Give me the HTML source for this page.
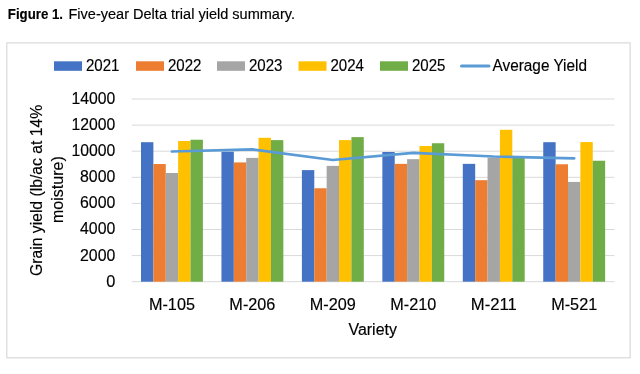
<!DOCTYPE html>
<html><head><meta charset="utf-8"><style>
html,body{margin:0;padding:0;background:#fff;}
body{width:640px;height:374px;overflow:hidden;}
svg{display:block;will-change:transform;}
text{font-family:"Liberation Sans", sans-serif;fill:#000;stroke:#000;stroke-width:0.15px;}
</style></head><body>
<svg width="640" height="374" viewBox="0 0 640 374">
<rect x="0" y="0" width="640" height="374" fill="#fff"/>
<text x="7.8" y="18.5" font-size="13.8" font-weight="bold" textLength="55.2" lengthAdjust="spacingAndGlyphs">Figure 1.</text>
<text x="68.5" y="18.5" font-size="13.8" textLength="226.5" lengthAdjust="spacingAndGlyphs">Five-year Delta trial yield summary.</text>
<rect x="6.8" y="42.9" width="623.3" height="314.9" fill="none" stroke="#D9D9D9" stroke-width="1.2"/>
<g font-size="15.6">
<line x1="131.72" y1="281.70" x2="614.42" y2="281.70" stroke="#D9D9D9" stroke-width="1"/>
<line x1="131.72" y1="255.60" x2="614.42" y2="255.60" stroke="#D9D9D9" stroke-width="1"/>
<line x1="131.72" y1="229.50" x2="614.42" y2="229.50" stroke="#D9D9D9" stroke-width="1"/>
<line x1="131.72" y1="203.40" x2="614.42" y2="203.40" stroke="#D9D9D9" stroke-width="1"/>
<line x1="131.72" y1="177.30" x2="614.42" y2="177.30" stroke="#D9D9D9" stroke-width="1"/>
<line x1="131.72" y1="151.20" x2="614.42" y2="151.20" stroke="#D9D9D9" stroke-width="1"/>
<line x1="131.72" y1="125.10" x2="614.42" y2="125.10" stroke="#D9D9D9" stroke-width="1"/>
<line x1="131.72" y1="99.00" x2="614.42" y2="99.00" stroke="#D9D9D9" stroke-width="1"/>
<rect x="141.00" y="142.20" width="12.38" height="139.50" fill="#4472C4"/>
<rect x="153.38" y="164.05" width="12.38" height="117.65" fill="#ED7D31"/>
<rect x="165.76" y="172.99" width="12.38" height="108.71" fill="#A5A5A5"/>
<rect x="178.13" y="140.99" width="12.38" height="140.71" fill="#FFC000"/>
<rect x="190.51" y="139.72" width="12.38" height="141.98" fill="#70AD47"/>
<rect x="221.45" y="151.72" width="12.38" height="129.98" fill="#4472C4"/>
<rect x="233.83" y="162.42" width="12.38" height="119.28" fill="#ED7D31"/>
<rect x="246.21" y="157.89" width="12.38" height="123.81" fill="#A5A5A5"/>
<rect x="258.58" y="137.80" width="12.38" height="143.90" fill="#FFC000"/>
<rect x="270.96" y="140.11" width="12.38" height="141.59" fill="#70AD47"/>
<rect x="301.90" y="170.12" width="12.38" height="111.58" fill="#4472C4"/>
<rect x="314.28" y="188.26" width="12.38" height="93.44" fill="#ED7D31"/>
<rect x="326.66" y="165.88" width="12.38" height="115.82" fill="#A5A5A5"/>
<rect x="339.03" y="140.11" width="12.38" height="141.59" fill="#FFC000"/>
<rect x="351.41" y="137.11" width="12.38" height="144.59" fill="#70AD47"/>
<rect x="382.35" y="151.98" width="12.38" height="129.72" fill="#4472C4"/>
<rect x="394.73" y="163.86" width="12.38" height="117.84" fill="#ED7D31"/>
<rect x="407.11" y="159.16" width="12.38" height="122.54" fill="#A5A5A5"/>
<rect x="419.48" y="145.98" width="12.38" height="135.72" fill="#FFC000"/>
<rect x="431.86" y="143.24" width="12.38" height="138.46" fill="#70AD47"/>
<rect x="462.80" y="163.86" width="12.38" height="117.84" fill="#4472C4"/>
<rect x="475.18" y="180.17" width="12.38" height="101.53" fill="#ED7D31"/>
<rect x="487.56" y="157.72" width="12.38" height="123.97" fill="#A5A5A5"/>
<rect x="499.93" y="129.80" width="12.38" height="151.90" fill="#FFC000"/>
<rect x="512.31" y="157.99" width="12.38" height="123.71" fill="#70AD47"/>
<rect x="543.25" y="142.20" width="12.38" height="139.50" fill="#4472C4"/>
<rect x="555.63" y="164.25" width="12.38" height="117.45" fill="#ED7D31"/>
<rect x="568.01" y="181.93" width="12.38" height="99.77" fill="#A5A5A5"/>
<rect x="580.38" y="142.06" width="12.38" height="139.63" fill="#FFC000"/>
<rect x="592.76" y="160.73" width="12.38" height="120.97" fill="#70AD47"/>
<polyline points="171.94,151.50 252.39,149.30 332.84,160.00 413.29,152.80 493.75,156.50 574.19,158.30" fill="none" stroke="#5B9BD5" stroke-width="2.75" stroke-linejoin="round" stroke-linecap="round"/>
<text x="115.3" y="286.60" text-anchor="end" textLength="9.1" lengthAdjust="spacingAndGlyphs">0</text>
<text x="115.3" y="260.50" text-anchor="end" textLength="35.3" lengthAdjust="spacingAndGlyphs">2000</text>
<text x="115.3" y="234.40" text-anchor="end" textLength="35.3" lengthAdjust="spacingAndGlyphs">4000</text>
<text x="115.3" y="208.30" text-anchor="end" textLength="35.3" lengthAdjust="spacingAndGlyphs">6000</text>
<text x="115.3" y="182.20" text-anchor="end" textLength="35.3" lengthAdjust="spacingAndGlyphs">8000</text>
<text x="115.3" y="156.10" text-anchor="end" textLength="43.8" lengthAdjust="spacingAndGlyphs">10000</text>
<text x="115.3" y="130.00" text-anchor="end" textLength="43.8" lengthAdjust="spacingAndGlyphs">12000</text>
<text x="115.3" y="103.90" text-anchor="end" textLength="43.8" lengthAdjust="spacingAndGlyphs">14000</text>
<text x="171.94" y="310" text-anchor="middle" textLength="46" lengthAdjust="spacingAndGlyphs">M-105</text>
<text x="252.39" y="310" text-anchor="middle" textLength="46" lengthAdjust="spacingAndGlyphs">M-206</text>
<text x="332.84" y="310" text-anchor="middle" textLength="46" lengthAdjust="spacingAndGlyphs">M-209</text>
<text x="413.29" y="310" text-anchor="middle" textLength="46" lengthAdjust="spacingAndGlyphs">M-210</text>
<text x="493.75" y="310" text-anchor="middle" textLength="46" lengthAdjust="spacingAndGlyphs">M-211</text>
<text x="574.19" y="310" text-anchor="middle" textLength="46" lengthAdjust="spacingAndGlyphs">M-521</text>
<rect x="54" y="61.3" width="28" height="9.5" fill="#4472C4"/>
<text x="86" y="71" textLength="33.5" lengthAdjust="spacingAndGlyphs">2021</text>
<rect x="136" y="61.3" width="28" height="9.5" fill="#ED7D31"/>
<text x="168" y="71" textLength="33.5" lengthAdjust="spacingAndGlyphs">2022</text>
<rect x="217" y="61.3" width="28" height="9.5" fill="#A5A5A5"/>
<text x="249" y="71" textLength="33.5" lengthAdjust="spacingAndGlyphs">2023</text>
<rect x="298.5" y="61.3" width="28" height="9.5" fill="#FFC000"/>
<text x="330.5" y="71" textLength="33.5" lengthAdjust="spacingAndGlyphs">2024</text>
<rect x="380" y="61.3" width="28" height="9.5" fill="#70AD47"/>
<text x="412" y="71" textLength="33.5" lengthAdjust="spacingAndGlyphs">2025</text>
<line x1="461.5" y1="66" x2="489" y2="66" stroke="#5B9BD5" stroke-width="3" stroke-linecap="round"/>
<text x="492.5" y="71" textLength="94.5" lengthAdjust="spacingAndGlyphs">Average Yield</text>
<text x="372.7" y="335" text-anchor="middle" textLength="48.5" lengthAdjust="spacingAndGlyphs">Variety</text>
<text transform="rotate(-90)" x="-276" y="42" textLength="171.2" lengthAdjust="spacingAndGlyphs">Grain yield (lb/ac at 14%</text>
<text transform="rotate(-90)" x="-223" y="62.8" textLength="66.8" lengthAdjust="spacingAndGlyphs">moisture)</text>
</g>
</svg>
</body></html>
